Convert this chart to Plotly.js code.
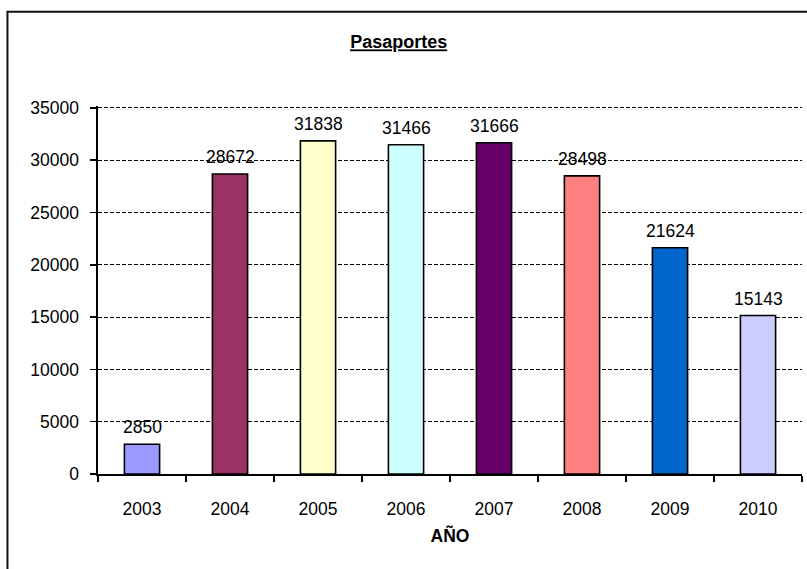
<!DOCTYPE html>
<html>
<head>
<meta charset="utf-8">
<script src="https://cdn.plot.ly/plotly-3.0.1.min.js"></script>
<style>
  html, body { margin: 0; padding: 0; background: #fff; }
  #chart { width: 807px; height: 569px; }
</style>
</head>
<body>
<div id="chart"></div>
<script>
// Passports issued per year
const years = ['2003', '2004', '2005', '2006', '2007', '2008', '2009', '2010'];
const passports = [2850, 28672, 31838, 31466, 31666, 28498, 21624, 15143];
const barColors = ['#9999FF', '#993366', '#FFFFCC', '#CCFFFF', '#660066', '#FF8080', '#0066CC', '#CCCCFF'];
const yTicks = [0, 5000, 10000, 15000, 20000, 25000, 30000, 35000];

const font = { family: 'Liberation Sans, Arial, sans-serif', size: 17.5, color: '#000' };

const trace = {
  type: 'bar',
  x: years,
  y: passports,
  width: 0.4,
  marker: { color: barColors, line: { color: '#000', width: 1.6 } },
  hoverinfo: 'x+y'
};

// value labels sitting above each bar (category axes place annotations by category index)
const valueLabels = years.map((yr, i) => ({
  x: i, y: passports[i], xref: 'x', yref: 'y',
  text: String(passports[i]),
  showarrow: false, yanchor: 'middle', yshift: 17,
  font: font
}));

// a little headroom so the top gridline is still drawn
const yMax = yTicks[yTicks.length - 1] * 1.005;

const layout = {
  width: 807,
  height: 569,
  margin: { l: 98, r: 5, t: 106, b: 95 },
  paper_bgcolor: '#fff',
  plot_bgcolor: '#fff',
  font: font,
  showlegend: false,
  title: {
    text: '<b><u>Pasaportes</u></b>',
    font: { family: font.family, size: 18, color: '#000' },
    xref: 'container', yref: 'container',
    x: 0.494, y: 0.926, xanchor: 'center', yanchor: 'middle'
  },
  xaxis: {
    type: 'category',
    categoryorder: 'array', categoryarray: years,
    range: [-0.5, years.length - 0.5],
    showline: true, linecolor: '#000', linewidth: 1.6,
    ticks: 'outside', tickson: 'boundaries', ticklen: 6, tickcolor: '#000', tickwidth: 1.6,
    ticklabelstandoff: 18,
    tickangle: 0,
    showgrid: false,
    tickfont: font,
    title: { text: '<b>AÑO</b>', font: { family: font.family, size: 17.5, color: '#000' }, standoff: 12 },
    automargin: false
  },
  yaxis: {
    range: [0, yMax],
    tickmode: 'array', tickvals: yTicks, ticktext: yTicks.map(String),
    showline: true, linecolor: '#000', linewidth: 1.6,
    ticks: 'outside', ticklen: 6, tickcolor: '#000', tickwidth: 1.6,
    ticklabelstandoff: 8,
    showgrid: true, gridcolor: '#000', gridwidth: 1, griddash: '4px,2px',
    zeroline: false,
    tickfont: font,
    automargin: false
  },
  annotations: valueLabels,
  // frame around the whole chart area
  shapes: [{
    type: 'rect', xref: 'paper', yref: 'paper',
    x0: -0.1286, x1: 1.06, y0: -0.35, y1: 1.256,
    line: { color: '#111', width: 2 }, fillcolor: 'rgba(0,0,0,0)', layer: 'below'
  }]
};

Plotly.newPlot('chart', [trace], layout, { displayModeBar: false, staticPlot: true });
</script>
</body>
</html>
